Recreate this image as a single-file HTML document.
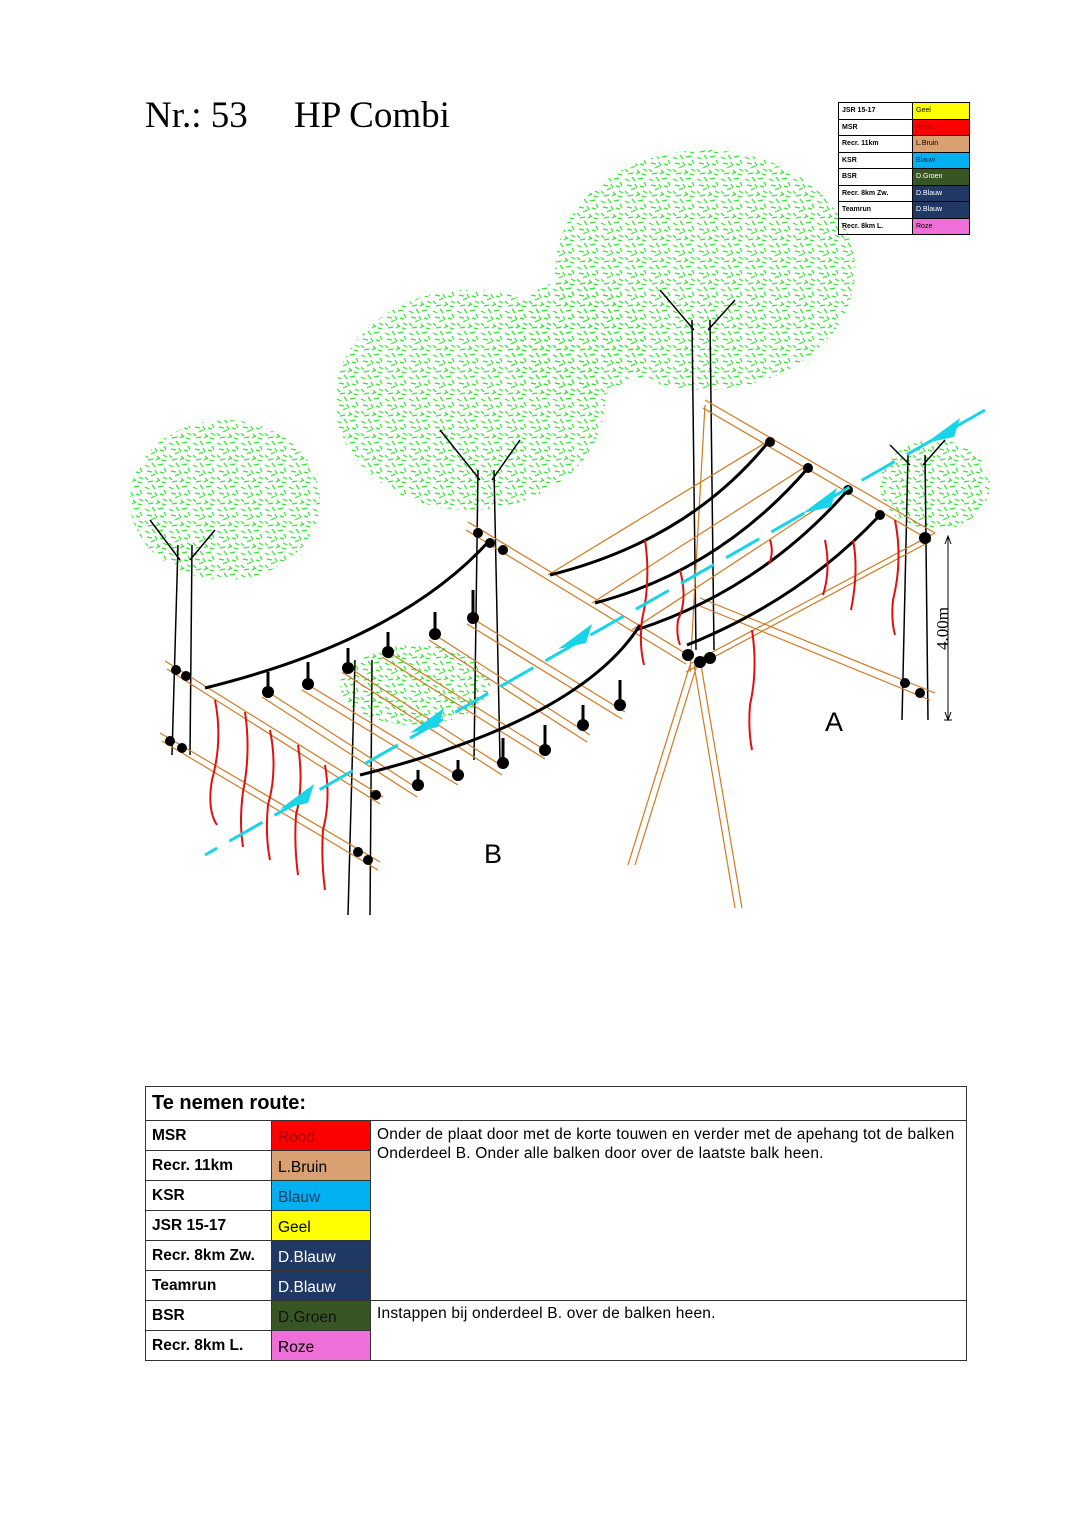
<!DOCTYPE html>
<html><head><meta charset="utf-8"><style>
body{margin:0;background:#fff;}
#p{position:relative;width:1080px;height:1527px;overflow:hidden;background:#fff;font-family:"Liberation Sans",sans-serif;}
.t{position:absolute;font-family:"Liberation Serif",serif;font-size:37px;top:94px;color:#000;}
table{border-collapse:collapse;position:absolute;}
#leg{left:838px;top:102px;width:132px;font-size:7px;font-weight:bold;}
#leg td{border:1px solid #000;height:15.5px;padding:0 0 0 3px;}
#leg td.c{font-weight:normal;width:53px;}
#rt{left:145px;top:1086px;width:822px;font-size:15.5px;}
#rt td{border:1px solid #333;height:29px;padding:0 0 0 6px;}
#rt td.n{font-weight:bold;width:119px;}
#rt td.c{width:92px;padding-top:4px;height:25px;}
</style></head><body><div id="p">
<div class="t" style="left:145px">Nr.: 53</div>
<div class="t" style="left:294px">HP Combi</div>

<svg width="1080" height="1527" style="position:absolute;left:0;top:0">
<defs>
<pattern id="lf" width="24" height="22" patternUnits="userSpaceOnUse">
<g stroke="#2ee82e" stroke-width="1.2" fill="none">
<path d="M1 3l4 2M8 1l3 4M14 3l5-1M20 6l2 4M3 9l5 1M11 8l2 4M16 10l4 1M1 15l3 3M7 14l4-2M13 16l3 3M19 15l4 2M4 20l5-1M12 20l3-2M18 20l4 1"/>
</g></pattern>
</defs>
<g fill="url(#lf)">
<ellipse cx="225" cy="500" rx="95" ry="80"/>
<ellipse cx="470" cy="400" rx="135" ry="110"/>
<ellipse cx="575" cy="340" rx="70" ry="60"/>
<ellipse cx="705" cy="270" rx="150" ry="120"/>
<ellipse cx="935" cy="485" rx="55" ry="45"/>
<ellipse cx="415" cy="685" rx="75" ry="40"/>
</g>
<g stroke="#000" stroke-width="1.5" fill="none">
<path d="M178 545 L172 755 M192 545 L190 755 M180 560 L150 520 M190 560 L215 530"/>
<path d="M478 470 L474 760 M494 470 L500 760 M480 480 L440 430 M492 480 L520 440"/>
<path d="M692 320 L696 650 M710 320 L714 650 M694 330 L660 290 M708 330 L735 300"/>
<path d="M908 455 L902 720 M925 455 L928 720 M910 465 L890 445 M923 465 L945 440"/>
<path d="M355 660 L348 915 M372 660 L370 915"/>
</g>
<g stroke="#d07a20" stroke-width="1.2" fill="none">
<path d="M165 661 L383 797 M167 669 L380 804"/>
<path d="M160 733 L380 862 M162 741 L378 870"/>
<path d="M468 522 L690 656 M466 530 L686 664"/>
<path d="M705 400 L935 533 M703 408 L931 541"/>
<path d="M935 533 L690 664 M931 541 L686 672"/>
<path d="M700 598 L935 693 M700 606 L930 700"/>
<path d="M705 405 L690 672"/>
<path d="M770 440 L548 575 M808 465 L592 603 M848 488 L632 630"/>
<path d="M690 665 L628 865 M697 665 L635 865 M694 665 L735 908 M701 665 L742 908"/>
<path d="M265 690 L420 790 M305 683 L462 778 M345 665 L505 768 M385 650 L548 752 M432 633 L590 735 M470 617 L625 712 M262 697 L417 797 M302 690 L458 785 M342 672 L502 775 M382 657 L545 759 M429 640 L587 742 M467 624 L622 719"/>
</g>
<g stroke="#000" stroke-width="3" fill="none">
<path d="M205 688 Q400 640 490 540"/>
<path d="M360 775 Q580 720 640 625"/>
<path d="M550 575 Q690 540 770 440"/>
<path d="M595 603 Q720 570 808 468"/>
<path d="M636 630 Q760 590 848 490"/>
<path d="M687 645 Q800 600 880 515"/>
<path d="M268 672 v20 M308 662 v22 M348 648 v20 M388 632 v20 M435 612 v22 M473 590 v28 M418 770 v15 M458 760 v15 M503 738 v25 M545 725 v25 M583 705 v20 M620 680 v25"/>
</g>
<g fill="#000">
<circle cx="176" cy="670" r="5"/><circle cx="186" cy="676" r="5"/><circle cx="170" cy="741" r="5"/><circle cx="182" cy="748" r="5"/>
<circle cx="358" cy="852" r="5"/><circle cx="368" cy="860" r="5"/><circle cx="376" cy="795" r="5"/>
<circle cx="478" cy="533" r="5"/><circle cx="490" cy="543" r="5"/><circle cx="503" cy="550" r="5"/>
<circle cx="268" cy="692" r="6"/><circle cx="308" cy="684" r="6"/><circle cx="348" cy="668" r="6"/><circle cx="388" cy="652" r="6"/><circle cx="435" cy="634" r="6"/><circle cx="473" cy="618" r="6"/>
<circle cx="418" cy="785" r="6"/><circle cx="458" cy="775" r="6"/><circle cx="503" cy="763" r="6"/><circle cx="545" cy="750" r="6"/><circle cx="583" cy="725" r="6"/><circle cx="620" cy="705" r="6"/>
<circle cx="770" cy="442" r="5"/><circle cx="808" cy="468" r="5"/><circle cx="848" cy="490" r="5"/><circle cx="880" cy="515" r="5"/><circle cx="925" cy="538" r="6"/>
<circle cx="688" cy="655" r="6"/><circle cx="700" cy="662" r="6"/><circle cx="710" cy="658" r="6"/><circle cx="905" cy="683" r="5"/><circle cx="920" cy="693" r="5"/>
</g>
<g stroke="#e01010" stroke-width="2" fill="none">
<path d="M215 700 q8 40 -3 80 q-5 30 5 45"/>
<path d="M245 712 q6 40 -2 80 q-4 30 0 55"/>
<path d="M270 730 q8 40 -2 75 q-3 30 2 55"/>
<path d="M298 745 q6 40 -2 70 q-2 30 2 60"/>
<path d="M325 765 q6 35 -2 65 q-2 30 2 60"/>
<path d="M645 540 q6 40 -3 80 q-3 25 2 45"/>
<path d="M680 570 q8 30 -2 50 q-2 15 2 25"/>
<path d="M752 630 q6 40 -2 75 q-2 25 2 45"/>
<path d="M770 540 q4 12 -1 24"/>
<path d="M825 540 q6 30 -2 55"/>
<path d="M853 540 q6 30 -2 70"/>
<path d="M895 520 q8 40 -2 80 q-2 20 2 35"/>
</g>
<g stroke="#18d4e8" stroke-width="3" fill="none" stroke-dasharray="38 14">
<path d="M985 410 L205 855"/>
</g>
<g fill="#18d4e8">
<path d="M926 443 l34 -25 l-6 19 z"/>
<path d="M803 513 l34 -25 l-6 19 z"/>
<path d="M558 649 l34 -25 l-6 19 z"/>
<path d="M410 733 l34 -25 l-6 19 z"/>
<path d="M280 809 l34 -25 l-6 19 z"/>
</g>
<g stroke="#000" stroke-width="1" fill="none">
<path d="M948 536 L948 720 M944 720 h8"/>
<path d="M945 544 l3 -8 l3 8 M945 712 l3 8 l3 -8"/>
</g>
<text x="0" y="0" transform="translate(948,650) rotate(-90)" font-family="Liberation Serif" font-size="17">4.00m</text>
<text x="825" y="731" font-family="Liberation Sans" font-size="27">A</text>
<text x="484" y="863" font-family="Liberation Sans" font-size="27">B</text>
</svg>

<table id="leg">
<tr><td>JSR 15-17</td><td class="c" style="background:#ffff00">Geel</td></tr>
<tr><td>MSR</td><td class="c" style="background:#ff0000;color:#a00">Rood</td></tr>
<tr><td>Recr. 11km</td><td class="c" style="background:#d9a171">L.Bruin</td></tr>
<tr><td>KSR</td><td class="c" style="background:#00b0f0;color:#124">Blauw</td></tr>
<tr><td>BSR</td><td class="c" style="background:#375623;color:#fff">D.Groen</td></tr>
<tr><td>Recr. 8km Zw.</td><td class="c" style="background:#1f3864;color:#fff">D.Blauw</td></tr>
<tr><td>Teamrun</td><td class="c" style="background:#1f3864;color:#fff">D.Blauw</td></tr>
<tr><td>Recr. 8km L.</td><td class="c" style="background:#ef6fd8">Roze</td></tr>
</table>

<table id="rt">
<tr><td colspan="3" style="font-size:20px;font-weight:bold;height:33px">Te nemen route:</td></tr>
<tr><td class="n">MSR</td><td class="c" style="background:#ff0000;color:#a00000">Rood</td><td rowspan="6" style="vertical-align:top;padding-top:4px;line-height:19px;letter-spacing:0.2px">Onder de plaat door met de korte touwen en verder met de apehang tot de balken<br>Onderdeel B. Onder alle balken door over de laatste balk heen.</td></tr>
<tr><td class="n">Recr. 11km</td><td class="c" style="background:#d9a171">L.Bruin</td></tr>
<tr><td class="n">KSR</td><td class="c" style="background:#00b0f0;color:#1f3864">Blauw</td></tr>
<tr><td class="n">JSR 15-17</td><td class="c" style="background:#ffff00">Geel</td></tr>
<tr><td class="n">Recr. 8km Zw.</td><td class="c" style="background:#1f3864;color:#fff">D.Blauw</td></tr>
<tr><td class="n">Teamrun</td><td class="c" style="background:#1f3864;color:#fff">D.Blauw</td></tr>
<tr><td class="n">BSR</td><td class="c" style="background:#375623;color:#111">D.Groen</td><td rowspan="2" style="vertical-align:top;padding-top:4px;letter-spacing:0.2px">Instappen bij onderdeel B. over de balken heen.</td></tr>
<tr><td class="n">Recr. 8km L.</td><td class="c" style="background:#ef6fd8">Roze</td></tr>
</table>
</div></body></html>
